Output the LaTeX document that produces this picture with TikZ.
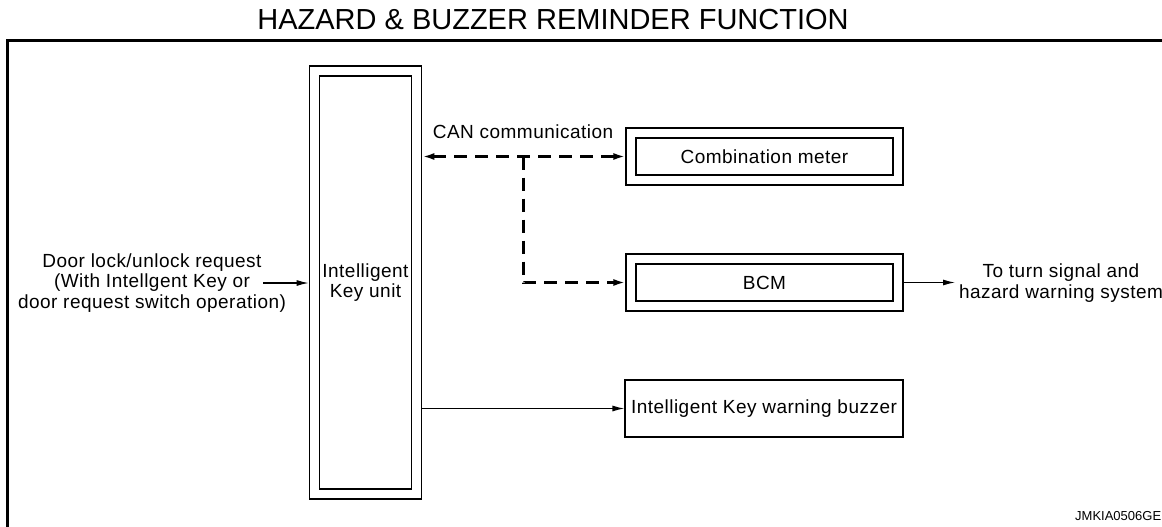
\documentclass[tikz,border=0pt]{standalone}
\usepackage{fontspec}
\setmainfont{Liberation Sans}
\usetikzlibrary{arrows.meta}

\begin{document}
\begin{tikzpicture}[x=1pt,y=-1pt,
  dbox/.style={draw,double,line width=1.2pt,double distance=8.8pt,outer sep=5.6pt,inner sep=0pt},
  sbox/.style={draw,line width=1.2pt,inner sep=0pt,minimum width=278pt,minimum height=57pt},
  txt/.style={font=\fontsize{19}{20.5}\selectfont\addfontfeature{LetterSpace=2.5},align=center},
  tip/.style={line width=1.2pt,-{Latex[length=12pt,width=6pt]}},
  canline/.style={line width=3pt,dash pattern=on 13pt off 8pt}]
\useasboundingbox (0,0) rectangle (1162,527);
% title and frame
\node[font=\fontsize{29}{31}\selectfont] (title) at (553,20) {HAZARD \& BUZZER REMINDER FUNCTION};
\draw[line width=3pt] (7,41) rectangle (1180,545);
% units
\node[dbox,txt,minimum width=102.5pt,minimum height=423pt] (iku) at (365.5,282.5) {Intelligent\\Key unit};
\node[dbox,txt,minimum width=267pt,minimum height=47pt] (cmeter) at (764.5,156.5) {Combination meter};
\node[dbox,txt,minimum width=267pt,minimum height=47pt] (bcm) at (764.5,282.5) {BCM};
\node[sbox,txt] (buzzer) at (764,408.5) {Intelligent Key warning buzzer};
% labels
\node[txt] (can) at (523,132) {CAN communication};
\node[txt] (req) at (152,283) {Door lock/unlock request\\(With Intellgent Key or\\door request switch operation)};
\node[txt] (turn) at (1061,283) {To turn signal and\\hazard warning system};
\node[font=\fontsize{13}{15}\selectfont,anchor=west,inner sep=0pt] (code) at (1075,516) {JMKIA0506GE};
% request in
\coordinate (reqend) at (263,283);
\draw[tip] (reqend) -- (reqend -| iku.west);
% CAN lines
\coordinate (tap) at (cmeter.west -| can);
\draw[canline,{Latex[length=12pt,width=7pt]}-{Latex[length=12pt,width=7pt]}] (iku.east |- cmeter.west) -- (cmeter.west);
\draw[canline,-{Latex[length=12pt,width=7pt]}] (tap) |- (bcm.west);
% outputs
\coordinate (turnend) at (955,282.5);
\draw[tip] (bcm.east) -- (turnend);
\draw[tip] (iku.east |- buzzer.west) -- (buzzer.west);
\end{tikzpicture}
\end{document}
